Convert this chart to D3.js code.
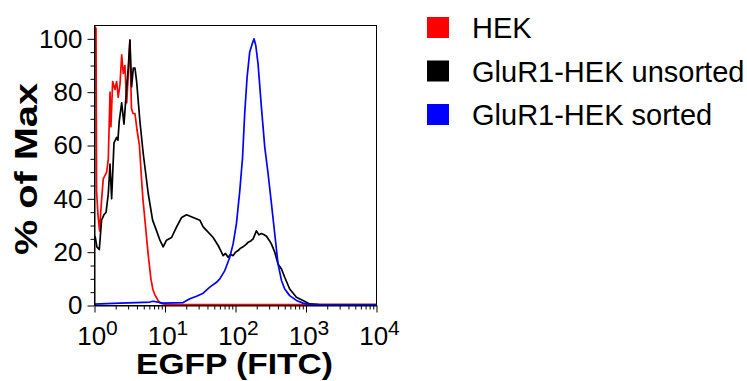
<!DOCTYPE html>
<html lang="en">
<head>
<meta charset="UTF-8">
<style>
  body { margin: 0; background: #fff; }
  svg { display: block; font-family: "Liberation Sans", Arial, sans-serif; }
  .line { fill: none; stroke-width: 1.7px; stroke-linejoin: round; }
  .axis path, .axis line { stroke: #000; stroke-width: 1px; }
  .axis text { font-size: 26px; fill: #000; font-family: "Liberation Sans", Arial, sans-serif; }
  .frame { fill: none; stroke: #000; stroke-width: 1px; }
</style>
</head>
<body>
<svg width="747" height="381"></svg>
<script src="https://d3js.org/d3.v7.min.js"></script>
<script>

// series: fluorescence (FITC) and % of max
var hekX = [1.0, 1.05, 1.07, 1.12, 1.18, 1.24, 1.33, 1.49, 1.57, 1.66, 1.71, 1.81, 1.95, 2.06, 2.17, 2.30, 2.43, 2.56, 2.70, 2.86, 2.98, 3.18, 3.34, 3.51, 3.75, 4.00, 4.34, 4.63, 4.86, 5.28, 5.73, 6.31, 6.74, 7.19, 7.93, 8.47, 10, 30, 100, 1000, 10000];
var hekY = [104, 104, 43, 34, 28, 37, 47.5, 50, 55, 80, 67, 84, 81, 84, 78, 83, 94, 87, 90, 76, 84, 99.5, 74, 72, 72, 66, 60, 48, 40, 30, 20, 10, 6, 4, 2, 1, 0.4, 0.3, 0.3, 0.3, 0.3];

var unsortedX = [1.02, 1.08, 1.17, 1.26, 1.36, 1.46, 1.57, 1.66, 1.75, 1.89, 2.06, 2.15, 2.24, 2.43, 2.62, 2.86, 3.01, 3.18, 3.36, 3.55, 3.75, 3.96, 4.41, 4.91, 5.78, 6.67, 7.60, 8.47, 9.43, 10.5, 12.4, 14.6, 17.2, 20.2, 25.1, 31.2, 34.8, 40.9, 48.2, 56.7, 62, 66.7, 72, 78.6, 85, 92.5, 100, 109, 118, 128, 140, 151, 165, 178, 198, 215, 233, 255, 275, 300, 324, 360, 401, 449, 499, 587, 731, 907, 1128, 1563, 10000];
var unsortedY = [26, 22, 21, 32, 34, 35, 42, 53, 40, 61, 63, 62, 69, 76, 68, 82, 89, 99.5, 82, 89, 89, 84, 69, 57, 42, 32, 28, 24.5, 22, 24.5, 25.5, 29.5, 33, 34, 33, 32, 29.5, 27.5, 25.5, 22.5, 20.5, 18.7, 19.5, 18.1, 19.2, 18.7, 20, 20.6, 21.5, 22, 22.8, 23.7, 24.2, 25, 28, 26.5, 27, 26.5, 26, 24.5, 23, 20, 15.6, 13.7, 10.6, 6.2, 3.1, 1.9, 0.6, 0.3, 0.3];

var sortedX = [1.0, 2.30, 3.96, 6.11, 6.81, 9.43, 18.1, 22.5, 28.0, 34.8, 43.2, 53.8, 59.9, 70.5, 83.0, 92.5, 103, 115, 126, 135, 146, 159, 174, 183, 194, 209, 233, 260, 290, 324, 360, 401, 449, 499, 587, 731, 907, 1128, 1600, 10000];
var sortedY = [0.5, 0.9, 1.1, 1.3, 1.6, 0.9, 1.1, 2.5, 3.5, 4.6, 6.9, 8.7, 10, 13.1, 18.1, 23.1, 30.6, 43, 55.6, 72, 85.6, 95, 98.4, 100, 97.5, 90.6, 74.4, 59.4, 49.4, 38, 27, 15.6, 9.4, 6.2, 3.7, 1.9, 0.9, 0.4, 0.2, 0.2];

var seriesNames = ["HEK", "GluR1-HEK unsorted", "GluR1-HEK sorted"];
var seriesColors = ["#ff0000", "#000000", "#0000ff"];

var yMajor = [0, 20, 40, 60, 80, 100];
var xMajor = [1, 10, 100, 1000, 10000];

var svg = d3.select("svg"),
    margin = {top: 25.5, left: 94.5},
    width = 282,
    height = 280,
    g = svg.append("g").attr("transform", "translate(" + margin.left + "," + margin.top + ")");

var x = d3.scaleLog().domain([1, 10000]).range([0, width]),
    y = d3.scaleLinear().domain([0, 105]).range([height, 0]);

var yMinor = d3.range(0, 101, 5).filter(function(d) { return d % 20 !== 0; });
var xMinor = [];
xMajor.slice(0, -1).forEach(function(p) {
    for (var k = 2; k <= 9; k++) xMinor.push(p * k);
});

g.append("defs").append("clipPath").attr("id", "clip")
    .append("rect").attr("width", width).attr("height", height);

// frame
g.append("rect").attr("class", "frame").attr("width", width).attr("height", height);

var line = d3.line()
    .x(function(d) { return x(d[0]); })
    .y(function(d) { return y(d[1]); });

var series = [
    d3.zip(hekX, hekY),
    d3.zip(unsortedX, unsortedY),
    d3.zip(sortedX, sortedY)
];

g.append("g").attr("clip-path", "url(#clip)")
    .selectAll(".line")
    .data(series)
    .enter().append("path")
    .attr("class", "line")
    .attr("d", line)
    .style("stroke", function(d, i) { return seriesColors[i]; });

// y axis
g.append("g").attr("class", "axis")
    .call(d3.axisLeft(y).tickValues(yMinor).tickSize(4).tickFormat(""))
    .select(".domain").remove();
g.append("g").attr("class", "axis")
    .call(d3.axisLeft(y).tickValues(yMajor).tickSizeInner(7).tickSizeOuter(0).tickPadding(5))
    .select(".domain").attr("d", "M0.5," + height + "V0");

// x axis
var xg = g.append("g").attr("class", "axis").attr("transform", "translate(0," + height + ")");
xg.append("g")
    .call(d3.axisBottom(x).tickValues(xMinor).tickSize(4).tickFormat(""))
    .select(".domain").remove();
xg.append("g")
    .call(d3.axisBottom(x).tickValues(xMajor).tickSizeInner(7).tickSizeOuter(0).tickFormat(""));

var xl = xg.selectAll(".xlab")
    .data(xMajor)
    .enter().append("text")
    .attr("class", "xlab")
    .attr("x", function(d) { return x(d) + 3; })
    .attr("y", 39)
    .attr("text-anchor", "middle");
xl.append("tspan").text("10");
xl.append("tspan")
    .attr("dy", -10)
    .style("font-size", "21px")
    .text(function(d) { return Math.round(Math.log10(d)); });

// axis titles
svg.append("text")
    .attr("x", 234.5)
    .attr("y", 374)
    .attr("text-anchor", "middle")
    .attr("textLength", 197)
    .attr("lengthAdjust", "spacingAndGlyphs")
    .style("font-size", "30px")
    .style("font-weight", "bold")
    .text("EGFP (FITC)");

svg.append("text")
    .attr("transform", "translate(37,169) rotate(-90)")
    .attr("text-anchor", "middle")
    .attr("textLength", 172)
    .attr("lengthAdjust", "spacingAndGlyphs")
    .style("font-size", "31px")
    .style("font-weight", "bold")
    .text("% of Max");

// legend
var legend = svg.append("g").attr("transform", "translate(427,17)");
var item = legend.selectAll(".item")
    .data(seriesNames)
    .enter().append("g")
    .attr("class", "item")
    .attr("transform", function(d, i) { return "translate(0," + (i * 43.5) + ")"; });
item.append("rect")
    .attr("width", 22)
    .attr("height", 21)
    .style("fill", function(d, i) { return seriesColors[i]; });
item.append("text")
    .attr("x", 45)
    .attr("y", 21)
    .style("font-size", "29px")
    .text(function(d) { return d; });

</script>
</body>
</html>
